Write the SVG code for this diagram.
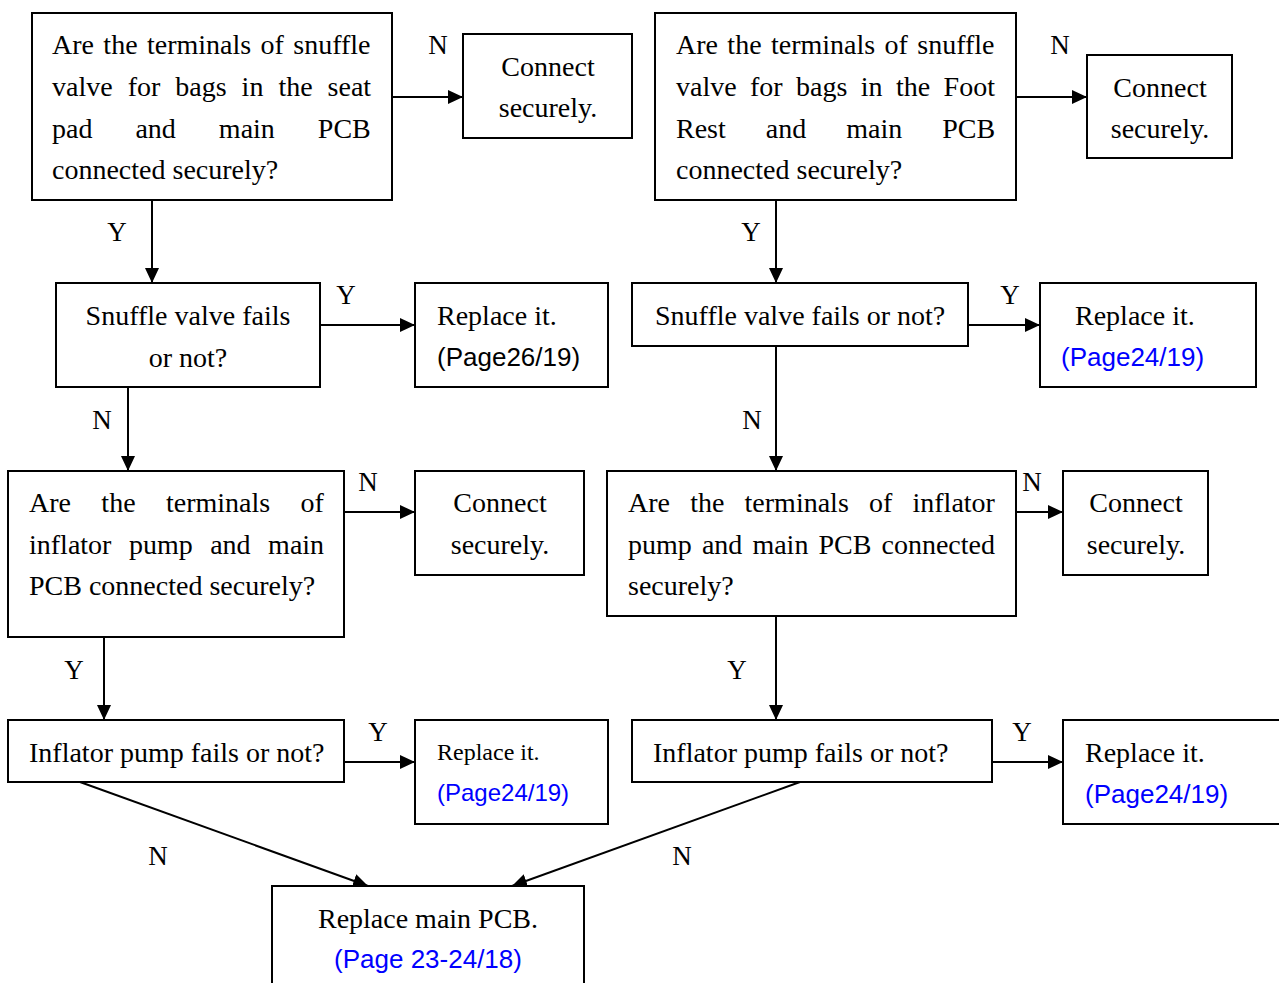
<svg xmlns="http://www.w3.org/2000/svg" width="1279" height="983" viewBox="0 0 1279 983">
<style>
.box{fill:#fff;stroke:#000;stroke-width:2}
.t{font-family:"Liberation Serif","Times New Roman",serif;font-size:28px;fill:#000}
.ts{font-family:"Liberation Serif","Times New Roman",serif;font-size:24px;fill:#000}
.c{text-anchor:middle}
.a{font-family:"Liberation Sans",Arial,sans-serif;font-size:26px;fill:#000}
.as{font-family:"Liberation Sans",Arial,sans-serif;font-size:24px;fill:#0000ff}
.blue{fill:#0000ff}
.lbl{font-family:"Liberation Serif","Times New Roman",serif;font-size:27px;fill:#000;text-anchor:middle}
.ln{stroke:#000;stroke-width:2;fill:none;marker-end:url(#arr)}
</style>
<defs>
<marker id="arr" markerUnits="userSpaceOnUse" markerWidth="18" markerHeight="16" refX="15" refY="7" orient="auto">
<path d="M0,0 L15,7 L0,14 z" fill="#000"/>
</marker>
</defs>
<rect width="1279" height="983" fill="#fff"/>

<g id="connectors">
<line class="ln" x1="392" y1="97" x2="463" y2="97"/>
<line class="ln" x1="152" y1="200" x2="152" y2="283"/>
<line class="ln" x1="320" y1="325" x2="415" y2="325"/>
<line class="ln" x1="128" y1="387" x2="128" y2="471"/>
<line class="ln" x1="344" y1="512" x2="415" y2="512"/>
<line class="ln" x1="104" y1="637" x2="104" y2="720"/>
<line class="ln" x1="344" y1="762" x2="415" y2="762"/>
<line class="ln" x1="80" y1="782" x2="368" y2="886"/>
<line class="ln" x1="1016" y1="97" x2="1087" y2="97"/>
<line class="ln" x1="776" y1="200" x2="776" y2="283"/>
<line class="ln" x1="968" y1="325" x2="1040" y2="325"/>
<line class="ln" x1="776" y1="346" x2="776" y2="471"/>
<line class="ln" x1="1016" y1="512" x2="1063" y2="512"/>
<line class="ln" x1="776" y1="616" x2="776" y2="720"/>
<line class="ln" x1="992" y1="762" x2="1063" y2="762"/>
<line class="ln" x1="800" y1="782" x2="512" y2="886"/>
<text class="lbl" x="438" y="54">N</text>
<text class="lbl" x="117" y="241">Y</text>
<text class="lbl" x="346" y="304">Y</text>
<text class="lbl" x="102" y="429">N</text>
<text class="lbl" x="368" y="491">N</text>
<text class="lbl" x="74" y="679">Y</text>
<text class="lbl" x="378" y="741">Y</text>
<text class="lbl" x="158" y="865">N</text>
<text class="lbl" x="1060" y="54">N</text>
<text class="lbl" x="751" y="241">Y</text>
<text class="lbl" x="1010" y="304">Y</text>
<text class="lbl" x="752" y="429">N</text>
<text class="lbl" x="1032" y="491">N</text>
<text class="lbl" x="737" y="679">Y</text>
<text class="lbl" x="1022" y="741">Y</text>
<text class="lbl" x="682" y="865">N</text>
</g>

<g id="q-seat">
<rect class="box" x="32" y="13" width="360" height="187"/>
<text class="t" x="52" y="54" word-spacing="2.4">Are the terminals of snuffle</text>
<text class="t" x="52" y="96" word-spacing="8">valve for bags in the seat</text>
<text class="t" x="52" y="138" word-spacing="36">pad and main PCB</text>
<text class="t" x="52" y="179">connected securely?</text>
</g>
<g id="connect-1">
<rect class="box" x="463" y="34" width="169" height="104"/>
<text class="t c" x="548" y="76">Connect</text>
<text class="t c" x="548" y="117">securely.</text>
</g>
<g id="snuffle-1">
<rect class="box" x="56" y="283" width="264" height="104"/>
<text class="t c" x="188" y="325">Snuffle valve fails</text>
<text class="t c" x="188" y="367">or not?</text>
</g>
<g id="replace-1">
<rect class="box" x="415" y="283" width="193" height="104"/>
<text class="t" x="437" y="325">Replace it.</text>
<text class="a" x="437" y="366">(Page26/19)</text>
</g>
<g id="q-pump-1">
<rect class="box" x="8" y="471" width="336" height="166"/>
<text class="t" x="29" y="512" word-spacing="23.4">Are the terminals of</text>
<text class="t" x="29" y="554" word-spacing="10.5">inflator pump and main</text>
<text class="t" x="29" y="595">PCB connected securely?</text>
</g>
<g id="connect-3">
<rect class="box" x="415" y="471" width="169" height="104"/>
<text class="t c" x="500" y="512">Connect</text>
<text class="t c" x="500" y="554">securely.</text>
</g>
<g id="pump-1">
<rect class="box" x="8" y="720" width="336" height="62"/>
<text class="t" x="29" y="762">Inflator pump fails or not?</text>
</g>
<g id="replace-3">
<rect class="box" x="415" y="720" width="193" height="104"/>
<text class="ts" x="437" y="760">Replace it.</text>
<text class="as" x="437" y="801">(Page24/19)</text>
</g>

<g id="q-foot">
<rect class="box" x="655" y="13" width="361" height="187"/>
<text class="t" x="676" y="54" word-spacing="2.4">Are the terminals of snuffle</text>
<text class="t" x="676" y="96" word-spacing="6.4">valve for bags in the Foot</text>
<text class="t" x="676" y="138" word-spacing="33">Rest and main PCB</text>
<text class="t" x="676" y="179">connected securely?</text>
</g>
<g id="connect-2">
<rect class="box" x="1087" y="55" width="145" height="103"/>
<text class="t c" x="1160" y="97">Connect</text>
<text class="t c" x="1160" y="138">securely.</text>
</g>
<g id="snuffle-2">
<rect class="box" x="632" y="283" width="336" height="63"/>
<text class="t" x="655" y="325">Snuffle valve fails or not?</text>
</g>
<g id="replace-2">
<rect class="box" x="1040" y="283" width="216" height="104"/>
<text class="t" x="1075" y="325">Replace it.</text>
<text class="a blue" x="1061" y="366">(Page24/19)</text>
</g>
<g id="q-pump-2">
<rect class="box" x="607" y="471" width="409" height="145"/>
<text class="t" x="628" y="512" word-spacing="13.2">Are the terminals of inflator</text>
<text class="t" x="628" y="554" word-spacing="3.1">pump and main PCB connected</text>
<text class="t" x="628" y="595">securely?</text>
</g>
<g id="connect-4">
<rect class="box" x="1063" y="471" width="145" height="104"/>
<text class="t c" x="1136" y="512">Connect</text>
<text class="t c" x="1136" y="554">securely.</text>
</g>
<g id="pump-2">
<rect class="box" x="632" y="720" width="360" height="62"/>
<text class="t" x="653" y="762">Inflator pump fails or not?</text>
</g>
<g id="replace-4">
<rect class="box" x="1063" y="720" width="240" height="104"/>
<text class="t" x="1085" y="762">Replace it.</text>
<text class="a blue" x="1085" y="803">(Page24/19)</text>
</g>

<g id="replace-pcb">
<rect class="box" x="272" y="886" width="312" height="120"/>
<text class="t c" x="428" y="928">Replace main PCB.</text>
<text class="a blue c" x="428" y="968">(Page 23-24/18)</text>
</g>
</svg>
